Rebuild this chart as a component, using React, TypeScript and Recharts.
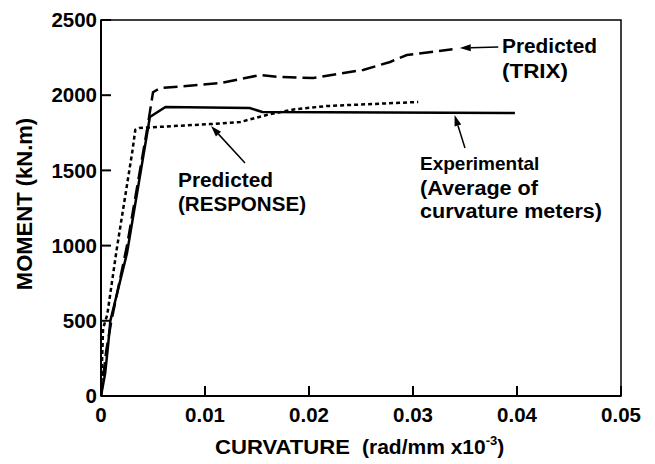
import React from 'react';
import { LineChart, Line, XAxis, YAxis, ReferenceArea, ReferenceLine } from 'recharts';

// curvature (rad/mm x10^-3) vs moment (kN.m)
const experimental = [
  { c: 0, m: 0 },
  { c: 0.0004, m: 150 },
  { c: 0.0007, m: 350 },
  { c: 0.0009, m: 500 },
  { c: 0.0025, m: 950 },
  { c: 0.0047, m: 1855 },
  { c: 0.0062, m: 1922 },
  { c: 0.0143, m: 1915 },
  { c: 0.0155, m: 1888 },
  { c: 0.0398, m: 1882 },
];

const predictedTrix = [
  { c: 0, m: 0 },
  { c: 0.0005, m: 300 },
  { c: 0.001, m: 500 },
  { c: 0.0025, m: 1000 },
  { c: 0.0045, m: 1800 },
  { c: 0.005, m: 2020 },
  { c: 0.0057, m: 2047 },
  { c: 0.0114, m: 2080 },
  { c: 0.0153, m: 2134 },
  { c: 0.0172, m: 2121 },
  { c: 0.0204, m: 2114 },
  { c: 0.0252, m: 2168 },
  { c: 0.0278, m: 2221 },
  { c: 0.0294, m: 2267 },
  { c: 0.0338, m: 2305 },
];

const predictedResponse = [
  { c: 0, m: 0 },
  { c: 0.0002, m: 450 },
  { c: 0.0006, m: 540 },
  { c: 0.0015, m: 970 },
  { c: 0.003, m: 1620 },
  { c: 0.0033, m: 1770 },
  { c: 0.0037, m: 1782 },
  { c: 0.0105, m: 1808 },
  { c: 0.0134, m: 1822 },
  { c: 0.016, m: 1870 },
  { c: 0.0185, m: 1905 },
  { c: 0.0217, m: 1928 },
  { c: 0.0305, m: 1955 },
];

const xTicks = [0, 0.01, 0.02, 0.03, 0.04, 0.05];
const yTicks = [0, 500, 1000, 1500, 2000, 2500];

// annotation arrows: [tail, head] in data units
const arrowTrix = [{ x: 0.0382, y: 2320 }, { x: 0.0345, y: 2314 }];
const arrowExp = [{ x: 0.035, y: 1649 }, { x: 0.034, y: 1868 }];
const arrowResp = [{ x: 0.01385, y: 1549 }, { x: 0.01058, y: 1795 }];

const FONT = '"Liberation Sans", Arial, Helvetica, sans-serif';

const Arrow = (props: any) => {
  const { x1, y1, x2, y2 } = props;
  const dx = x2 - x1;
  const dy = y2 - y1;
  const len = Math.sqrt(dx * dx + dy * dy) || 1;
  const ux = dx / len;
  const uy = dy / len;
  const hl = 11;
  const hw = 3.5;
  const bx = x2 - ux * hl;
  const by = y2 - uy * hl;
  const pts = `${x2},${y2} ${bx - uy * hw},${by + ux * hw} ${bx + uy * hw},${by - ux * hw}`;
  return (
    <g>
      <line x1={x1} y1={y1} x2={bx} y2={by} stroke="#000" strokeWidth={1.5} />
      <polygon points={pts} fill="#000" />
    </g>
  );
};

const tickStyle = { fill: '#000', fontSize: 20.5, fontWeight: 700, fontFamily: FONT };

// one annotation line, stretched to the width it has in the reference
const Note = ({ x, y, w, size = 20, children }: { x: number; y: number; w?: number; size?: number; children: React.ReactNode }) => (
  <text x={x} y={y} fontSize={size} textLength={w} lengthAdjust={w ? 'spacingAndGlyphs' : undefined}>
    {children}
  </text>
);

export default function App() {
  return (
    <div style={{ position: 'absolute', left: 0, top: 0, width: 655, height: 464, background: '#fff' }}>
      <LineChart width={655} height={464} margin={{ top: 20, right: 34, bottom: 28, left: 41 }}>
        <ReferenceArea x1={0} x2={0.05} y1={0} y2={2500} fill="none" stroke="#000" strokeWidth={1.5} ifOverflow="visible" />
        <XAxis
          type="number"
          dataKey="c"
          domain={[0, 0.05]}
          ticks={xTicks}
          allowDataOverflow
          height={40}
          tickSize={-10}
          tickMargin={21}
          tick={tickStyle}
          tickFormatter={(v: number) => (v === 0 ? '0' : v.toFixed(2))}
          stroke="#000"
          strokeWidth={2}
        />
        <YAxis
          type="number"
          dataKey="m"
          domain={[0, 2500]}
          ticks={yTicks}
          allowDataOverflow
          width={60}
          tickSize={-10}
          tickMargin={14}
          tick={tickStyle}
          stroke="#000"
          strokeWidth={2}
        />
        <Line data={predictedTrix} dataKey="m" type="linear" stroke="#000" strokeWidth={2.5} strokeDasharray="14 6" dot={false} isAnimationActive={false} />
        <Line data={predictedResponse} dataKey="m" type="linear" stroke="#000" strokeWidth={2.5} strokeDasharray="4 3" dot={false} isAnimationActive={false} />
        <Line data={experimental} dataKey="m" type="linear" stroke="#000" strokeWidth={2.5} dot={false} isAnimationActive={false} />
        <ReferenceLine segment={arrowTrix} shape={Arrow} />
        <ReferenceLine segment={arrowExp} shape={Arrow} />
        <ReferenceLine segment={arrowResp} shape={Arrow} />
      </LineChart>
      <svg width={655} height={464} style={{ position: 'absolute', left: 0, top: 0, pointerEvents: 'none' }}>
        <g fontFamily={FONT} fontWeight={700} fill="#000">
          <Note x={502} y={53} w={95}>Predicted</Note>
          <Note x={502} y={78} w={66}>(TRIX)</Note>
          <Note x={420} y={170} size={19}>Experimental</Note>
          <Note x={420} y={195} w={118}>(Average of</Note>
          <Note x={420} y={218} w={182}>curvature meters)</Note>
          <Note x={178} y={187} w={95}>Predicted</Note>
          <Note x={178} y={211} w={128}>(RESPONSE)</Note>
          <text x={215} y={454} fontSize={21} textLength={135} lengthAdjust="spacingAndGlyphs">CURVATURE</text>
          <text x={362} y={454} fontSize={21}>
            (rad/mm x10<tspan dy={-9} fontSize={13}>-3</tspan><tspan dy={9}>)</tspan>
          </text>
          <text x={32} y={204} fontSize={22} textAnchor="middle" transform="rotate(-90, 32, 204)">
            MOMENT  (kN.m)
          </text>
        </g>
      </svg>
    </div>
  );
}
